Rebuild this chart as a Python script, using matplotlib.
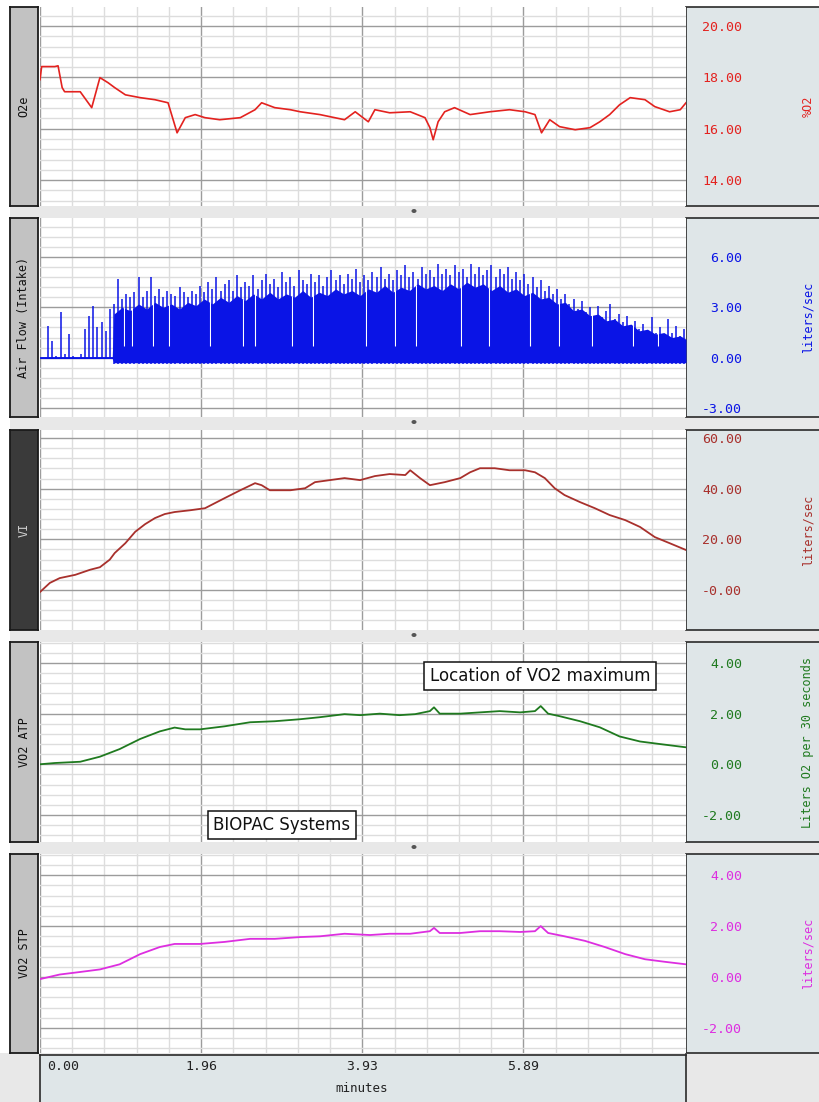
import numpy as np
import matplotlib
matplotlib.use('Agg')
import matplotlib.pyplot as plt
from matplotlib.patches import Rectangle, Ellipse
from matplotlib.ticker import MultipleLocator
from matplotlib.transforms import ScaledTranslation

# ---------------- data (minutes) ----------------
XMAX = 7.87
x_ticks = [0.0, 1.9633, 3.9266, 5.8899]
x_tick_labels = ['0.00', '1.96', '3.93', '5.89']

o2_t = [0, 0.02, 0.18, 0.22, 0.27, 0.30, 0.49, 0.63, 0.73, 0.83,
        0.91, 1.04, 1.22, 1.40, 1.56, 1.64, 1.67, 1.77, 1.89, 2.01,
        2.19, 2.44, 2.62, 2.70, 2.86, 3.05, 3.17, 3.41, 3.59, 3.71,
        3.84, 4.00, 4.08, 4.26, 4.51, 4.69, 4.75, 4.79, 4.85, 4.93,
        5.05, 5.24, 5.48, 5.72, 5.91, 6.03, 6.11, 6.21, 6.33, 6.52,
        6.70, 6.82, 6.94, 7.06, 7.19, 7.37, 7.49, 7.67, 7.80, 7.87]
o2_v = [17.91, 18.42, 18.42, 18.45, 17.60, 17.44, 17.44, 16.82, 17.99, 17.79,
        17.60, 17.32, 17.21, 17.13, 17.01, 16.16, 15.84, 16.43, 16.55, 16.43,
        16.35, 16.43, 16.74, 17.01, 16.82, 16.74, 16.66, 16.55, 16.43, 16.35,
        16.66, 16.27, 16.74, 16.62, 16.66, 16.43, 16.04, 15.57, 16.27, 16.66,
        16.82, 16.55, 16.66, 16.74, 16.66, 16.55, 15.84, 16.35, 16.08, 15.96,
        16.04, 16.27, 16.55, 16.93, 17.21, 17.13, 16.86, 16.66, 16.74, 17.01]

# Air flow: dense breathing mass (top edge) + individual breath peaks + white gaps
flow_mass_t = [0.0, 0.88, 0.9, 1.0, 1.1, 1.2, 1.3, 1.4, 1.5, 1.6, 1.7, 1.8, 1.9,
               2.0, 2.1, 2.2, 2.3, 2.4, 2.5, 2.6, 2.7, 2.8, 2.9,
               3.0, 3.1, 3.2, 3.3, 3.4, 3.5, 3.6, 3.7, 3.8, 3.9,
               4.0, 4.1, 4.2, 4.3, 4.4, 4.5, 4.6, 4.7, 4.8, 4.9,
               5.0, 5.1, 5.2, 5.3, 5.4, 5.5, 5.6, 5.7, 5.8, 5.9,
               6.0, 6.1, 6.2, 6.3, 6.4, 6.5, 6.6, 6.7, 6.8, 6.9,
               7.0, 7.1, 7.2, 7.3, 7.4, 7.5, 7.6, 7.7, 7.8, 7.87]
flow_mass_top = [0.05, 0.05, 2.6, 3.0, 2.8, 3.2, 2.9, 3.3, 3.0, 3.2, 2.9, 3.3, 3.1,
                 3.5, 3.2, 3.6, 3.3, 3.7, 3.4, 3.8, 3.5, 3.9, 3.5,
                 3.8, 3.6, 4.0, 3.6, 3.9, 3.7, 4.1, 3.8, 4.0, 3.7,
                 4.1, 3.9, 4.3, 3.9, 4.2, 4.0, 4.4, 4.1, 4.3, 4.0,
                 4.4, 4.1, 4.5, 4.2, 4.4, 4.0, 4.3, 3.9, 4.1, 3.7,
                 3.9, 3.5, 3.6, 3.2, 3.3, 2.8, 2.9, 2.5, 2.6, 2.2,
                 2.3, 1.9, 2.0, 1.6, 1.7, 1.4, 1.5, 1.2, 1.3, 1.1]
flow_mass_low = -0.3
flow_onset = 0.89
breath_peaks = [0.0, 1.9, 1.0, 0.1, 2.7, 0.2, 1.4, 0.1, 0.0, 0.2,
                1.7, 2.5, 3.1, 1.8, 2.1, 1.6, 2.9, 3.2, 4.7, 3.5,
                3.8, 3.6, 3.9, 4.8, 3.6, 4.0, 4.8, 3.7, 4.1, 3.6,
                4.0, 3.8, 3.7, 4.2, 3.9, 3.6, 4.0, 3.8, 4.3, 3.9,
                4.5, 4.1, 4.8, 4.0, 4.4, 4.6, 4.0, 4.9, 4.2, 4.5,
                4.3, 4.9, 4.1, 4.6, 5.0, 4.4, 4.7, 4.2, 5.1, 4.5,
                4.8, 4.3, 5.2, 4.6, 4.4, 5.0, 4.5, 4.9, 4.3, 4.8,
                5.2, 4.6, 4.9, 4.4, 5.0, 4.7, 5.3, 4.5, 4.9, 4.6,
                5.1, 4.8, 5.4, 4.7, 5.0, 4.6, 5.2, 4.9, 5.5, 4.8,
                5.1, 4.7, 5.4, 5.0, 5.2, 4.8, 5.6, 5.0, 5.3, 4.9,
                5.5, 5.1, 5.3, 4.8, 5.6, 5.0, 5.4, 4.9, 5.2, 5.5,
                4.8, 5.3, 5.0, 5.4, 4.7, 5.1, 4.6, 5.0, 4.4, 4.8,
                4.2, 4.6, 4.0, 4.3, 3.8, 4.1, 3.5, 3.8, 3.2, 3.5,
                2.9, 3.4, 2.7, 3.0, 2.5, 3.1, 2.4, 2.8, 3.2, 2.3,
                2.6, 2.1, 2.5, 1.9, 2.2, 1.7, 2.0, 1.6, 2.4, 1.5,
                1.8, 1.4, 2.3, 1.5, 1.9, 1.3, 1.7]
breath_start, breath_step = 0.05, 0.05
flow_gap_t = [1.025, 1.125, 1.375, 1.575, 2.075, 2.475, 2.625, 3.075, 3.325,
              3.975, 4.325, 4.575, 5.125, 5.475, 5.975, 6.325, 6.725, 7.225, 7.525]
flow_gap_low = 0.7

vi_t = [0, 0.12, 0.24, 0.43, 0.61, 0.73, 0.85, 0.91, 1.04, 1.16,
        1.28, 1.40, 1.52, 1.64, 1.83, 2.01, 2.13, 2.25, 2.44, 2.62,
        2.70, 2.80, 3.05, 3.23, 3.35, 3.53, 3.71, 3.90, 4.08, 4.26,
        4.45, 4.51, 4.63, 4.75, 4.93, 5.12, 5.24, 5.36, 5.54, 5.72,
        5.91, 6.03, 6.15, 6.27, 6.39, 6.58, 6.76, 6.94, 7.13, 7.31,
        7.49, 7.67, 7.87]
vi_v = [-0.8, 2.8, 4.7, 6.0, 8.0, 9.0, 12.0, 14.6, 18.5, 23.0,
        26.0, 28.4, 30.0, 30.8, 31.5, 32.3, 34.3, 36.3, 39.4, 42.2,
        41.4, 39.4, 39.4, 40.2, 42.6, 43.4, 44.2, 43.4, 45.0, 45.8,
        45.4, 47.3, 44.2, 41.4, 42.6, 44.2, 46.5, 48.1, 48.1, 47.3,
        47.3, 46.5, 44.2, 40.2, 37.5, 34.7, 32.3, 29.6, 27.6, 24.9,
        20.9, 18.5, 15.8]

atp_t = [0, 0.18, 0.49, 0.73, 0.97, 1.22, 1.46, 1.64, 1.77, 1.95,
         2.25, 2.56, 2.86, 3.17, 3.41, 3.71, 3.90, 4.14, 4.38, 4.57,
         4.75, 4.80, 4.87, 5.12, 5.36, 5.60, 5.85, 6.03, 6.10, 6.19,
         6.33, 6.58, 6.82, 7.06, 7.31, 7.55, 7.87]
atp_v = [0.0, 0.05, 0.1, 0.3, 0.6, 1.0, 1.3, 1.45, 1.38, 1.38,
         1.5, 1.66, 1.7, 1.78, 1.86, 1.98, 1.94, 2.0, 1.94, 1.98,
         2.1, 2.25, 2.0, 2.0, 2.05, 2.1, 2.05, 2.1, 2.3, 2.0,
         1.9, 1.7, 1.46, 1.1, 0.9, 0.8, 0.67]

stp_t = [0, 0.24, 0.49, 0.73, 0.97, 1.22, 1.46, 1.64, 1.95, 2.25,
         2.56, 2.86, 3.17, 3.41, 3.71, 4.02, 4.26, 4.51, 4.75, 4.80,
         4.87, 5.12, 5.36, 5.60, 5.85, 6.03, 6.10, 6.19, 6.39, 6.64,
         6.88, 7.13, 7.37, 7.61, 7.87]
stp_v = [-0.08, 0.1, 0.2, 0.3, 0.5, 0.9, 1.18, 1.3, 1.3, 1.38,
         1.5, 1.5, 1.57, 1.6, 1.7, 1.65, 1.7, 1.7, 1.8, 1.93,
         1.73, 1.73, 1.8, 1.8, 1.77, 1.8, 2.0, 1.73, 1.6, 1.42,
         1.18, 0.9, 0.7, 0.6, 0.5]

channel_names = ['O2e', 'Air Flow (Intake)', 'VI', 'VO2 ATP', 'VO2 STP']
channel_units = ['%O2', 'liters/sec', 'liters/sec', 'Liters O2 per 30 seconds', 'liters/sec']
y_ticks = [[14, 16, 18, 20], [-3, 0, 3, 6], [0, 20, 40, 60], [-2, 0, 2, 4], [-2, 0, 2, 4]]
y_tick_labels = [['14.00', '16.00', '18.00', '20.00'],
                 ['-3.00', '0.00', '3.00', '6.00'],
                 ['-0.00', '20.00', '40.00', '60.00'],
                 ['-2.00', '0.00', '2.00', '4.00'],
                 ['-2.00', '0.00', '2.00', '4.00']]

# ---------------- layout / style ----------------
W, H = 819, 1102
fig = plt.figure(figsize=(W / 100, H / 100), dpi=100)
fig.patch.set_facecolor('white')
MONO = 'DejaVu Sans Mono'
PANEL_BG = '#dfe6e8'
BAND = '#e8e8e8'

def frac(x0, y0, x1, y1):
    return [x0 / W, 1 - y1 / H, (x1 - x0) / W, (y1 - y0) / H]

def rect(x0, y0, x1, y1, **kw):
    r = Rectangle((x0 / W, 1 - y1 / H), (x1 - x0) / W, (y1 - y0) / H,
                  transform=fig.transFigure, **kw)
    fig.add_artist(r)
    return r

panel_y = [(7, 206), (218, 417), (430, 630), (642, 842), (854, 1053)]
ylims = [(12.99, 20.74), (-3.53, 8.32), (-15.8, 63.2), (-3.07, 4.83), (-2.98, 4.83)]
minor_div = 5
colors = ['#e3221f', '#0a14e6', '#a8302c', '#1f7a1f', '#dd2ee0']
label_bg = ['#c2c2c2', '#c2c2c2', '#3a3a3a', '#c2c2c2', '#c2c2c2']
label_fg = ['#111111', '#111111', '#d0d0d0', '#111111', '#111111']

x_minor_step = x_ticks[1] / minor_div
x_minor = [k * x_minor_step for k in range(int(XMAX / x_minor_step) + 1) if k % minor_div]

# separator bands
for (a, b), (c, d) in zip(panel_y[:-1], panel_y[1:]):
    rect(10, b, W + 2, c, facecolor=BAND, edgecolor='none', zorder=-2)
    fig.add_artist(Ellipse((414 / W, 1 - (b + 5) / H), 5 / W, 4 / H,
                           transform=fig.transFigure, facecolor='#555555',
                           edgecolor='none', zorder=5))
rect(0, 1053, W + 2, H + 2, facecolor=BAND, edgecolor='none', zorder=-2)

axes = []
for i, (y0, y1) in enumerate(panel_y):
    ax = fig.add_axes(frac(40, y0, 686, y1))
    ax.set_facecolor('white')
    ax.set_xlim(0, XMAX)
    ax.set_ylim(*ylims[i])
    ax.set_xticks(x_ticks)
    ax.set_xticks(x_minor, minor=True)
    yt = y_ticks[i]
    ystep = (yt[1] - yt[0]) / minor_div
    lo, hi = ylims[i]
    y_minor = [yt[0] + k * ystep for k in range(int((lo - yt[0]) / ystep) - 1, int((hi - yt[0]) / ystep) + 2)
               if k % minor_div]
    ax.set_yticks(yt)
    ax.set_yticks(y_minor, minor=True)
    ax.set_ylim(*ylims[i])
    ax.grid(which='minor', color='#dddddd', lw=1.0)
    ax.grid(which='major', color='#9c9c9c', lw=1.0)
    ax.set_axisbelow(True)
    ax.tick_params(which='both', length=0)
    ax.tick_params(axis='x', labelbottom=False)
    ax.yaxis.tick_right()
    ax.tick_params(axis='y', which='major', labelright=True, labelleft=False, pad=40.5,
                   labelsize=9.5, labelcolor=colors[i])
    ax.tick_params(axis='y', which='minor', labelright=False, labelleft=False)
    ax.set_yticklabels(y_tick_labels[i], fontfamily=MONO, ha='right')
    for s in ax.spines.values():
        s.set_visible(False)
    # right info panel
    rect(686, y0, W + 3, y1, facecolor=PANEL_BG, edgecolor='#2a2a2a', lw=1.2, zorder=-1)
    ax.text((808 - 40) / 646, 0.5, channel_units[i], transform=ax.transAxes,
            rotation=90, ha='center', va='center', fontsize=8.5, family=MONO,
            color=colors[i])
    # left label box
    lax = fig.add_axes(frac(10, y0, 38, y1))
    lax.set_facecolor(label_bg[i])
    lax.set_xticks([]); lax.set_yticks([])
    for s in lax.spines.values():
        s.set_color('#1a1a1a'); s.set_linewidth(1.3)
    lax.text(0.5, 0.5, channel_names[i], rotation=90, ha='center', va='center',
             fontsize=8.5, family=MONO, color=label_fg[i], transform=lax.transAxes)
    axes.append(ax)

# traces
axes[0].plot(o2_t, o2_v, color=colors[0], lw=1.2)

mass_t = np.array(flow_mass_t)
mass_low = np.where(mass_t < flow_onset, -0.05, flow_mass_low)
axes[1].fill_between(mass_t, mass_low, flow_mass_top, color=colors[1], lw=0)
axes[1].vlines(flow_gap_t, flow_gap_low, np.interp(flow_gap_t, flow_mass_t, flow_mass_top) + 0.05,
               color='white', lw=0.8)
breath_t = breath_start + breath_step * np.arange(len(breath_peaks))
breath_low = np.where(breath_t < flow_onset, 0.0, flow_mass_low - 0.08)
axes[1].vlines(breath_t, breath_low, breath_peaks, color=colors[1], lw=1.1)
axes[1].plot([0, 0.9], [0, 0], color=colors[1], lw=1.2)

axes[2].plot(vi_t, vi_v, color=colors[2], lw=1.3)
axes[3].plot(atp_t, atp_v, color=colors[3], lw=1.3)
axes[4].plot(stp_t, stp_v, color=colors[4], lw=1.3)

# bottom time axis
bax = fig.add_axes(frac(40, 1055, 686, 1104))
bax.set_facecolor(PANEL_BG)
bax.set_xlim(0, XMAX)
bax.set_yticks([])
bax.set_xticks(x_ticks)
bax.set_xticklabels(x_tick_labels, fontfamily=MONO, fontsize=9.5, color='#222222')
bax.xaxis.tick_top()
bax.tick_params(axis='x', length=0, pad=-13, labeltop=True, labelbottom=False)
for s in bax.spines.values():
    s.set_color('#2a2a2a'); s.set_linewidth(1.2)
first = bax.get_xticklabels()[0]
first.set_horizontalalignment('left')
first.set_transform(first.get_transform() + ScaledTranslation(7 / 100, 0, fig.dpi_scale_trans))
bax.text(0.4985, (1104 - 1088) / 49, 'minutes', transform=bax.transAxes,
         ha='center', va='center', fontsize=9, family=MONO, color='#222222')

# annotation boxes
fig.text(540 / W, 1 - 676 / H, 'Location of VO2 maximum', ha='center', va='center',
         fontsize=12, family='DejaVu Sans', color='#111111', zorder=10,
         bbox=dict(boxstyle='square,pad=0.32', facecolor='white', edgecolor='#111111', lw=1.1))
fig.text(282 / W, 1 - 825 / H, 'BIOPAC Systems', ha='center', va='center',
         fontsize=12, family='DejaVu Sans', color='#111111', zorder=10,
         bbox=dict(boxstyle='square,pad=0.32', facecolor='white', edgecolor='#111111', lw=1.1))

fig.savefig('out.png', dpi=100)
